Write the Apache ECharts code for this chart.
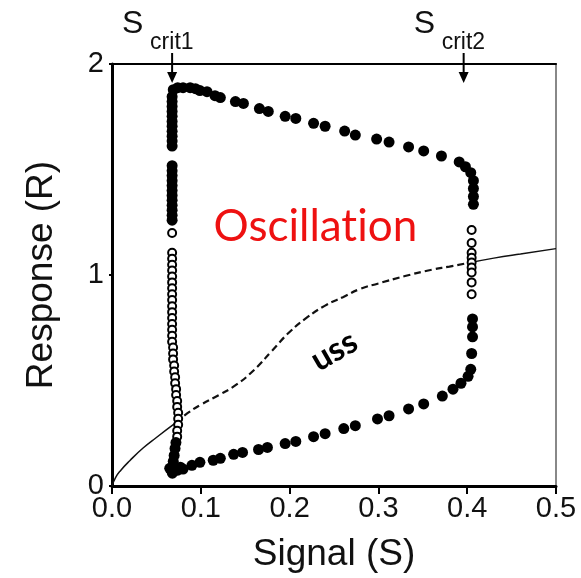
<!DOCTYPE html>
<html>
<head>
<meta charset="utf-8">
<script src="https://cdn.jsdelivr.net/npm/echarts@6/dist/echarts.min.js"></script>
<style>
  html, body { margin: 0; padding: 0; background: #fff; }
  #chart { width: 581px; height: 578px; }
</style>
</head>
<body>
<div id="chart"></div>
<script>
// tick labels
const xTicks = ['0.0', '0.1', '0.2', '0.3', '0.4', '0.5']
const yTicks = ['0', '1', '2']

// steady state curve (solid = stable, dashed = unstable)
const ussLow = [[0, 0], [0.004, 0.04], [0.01, 0.075], [0.02, 0.12], [0.035, 0.18], [0.05, 0.23], [0.072, 0.30]]
const ussMid = [[0.072, 0.30], [0.085, 0.345], [0.1, 0.385], [0.12, 0.43], [0.14, 0.48], [0.16, 0.55],
  [0.18, 0.64], [0.2, 0.73], [0.22, 0.80], [0.24, 0.855], [0.26, 0.895], [0.28, 0.935], [0.30, 0.96],
  [0.33, 0.995], [0.36, 1.025], [0.38, 1.04], [0.405, 1.06]]
const ussHigh = [[0.405, 1.06], [0.43, 1.08], [0.46, 1.10], [0.5, 1.125]]

// filled circles: oscillation trajectory
const filledLeft = [[0.0677, 1.845], [0.0677, 1.822], [0.0677, 1.799], [0.0677, 1.775], [0.0677, 1.752],
  [0.0677, 1.728], [0.0677, 1.705], [0.0677, 1.681], [0.0677, 1.658], [0.0677, 1.635], [0.0677, 1.611],
  [0.0677, 1.518], [0.0677, 1.494], [0.0677, 1.471], [0.0677, 1.447], [0.0677, 1.424], [0.0677, 1.400],
  [0.0677, 1.377], [0.0677, 1.354], [0.0677, 1.330], [0.0677, 1.307], [0.0677, 1.283], [0.0677, 1.260]]
const filledTop = [[0.069, 1.878], [0.074, 1.888], [0.080, 1.888], [0.088, 1.888], [0.094, 1.883],
  [0.099, 1.874], [0.107, 1.869], [0.116, 1.850], [0.122, 1.841], [0.139, 1.822], [0.148, 1.813],
  [0.166, 1.789], [0.176, 1.775], [0.195, 1.752], [0.207, 1.742], [0.227, 1.719], [0.240, 1.705],
  [0.262, 1.682], [0.274, 1.663], [0.298, 1.644], [0.312, 1.630], [0.334, 1.607], [0.351, 1.588],
  [0.371, 1.564], [0.391, 1.536], [0.398, 1.513], [0.404, 1.485], [0.407, 1.447], [0.407, 1.410],
  [0.407, 1.372], [0.407, 1.335]]
const filledRight = [[0.406, 0.792], [0.406, 0.754], [0.406, 0.707], [0.405, 0.628], [0.404, 0.553],
  [0.401, 0.520], [0.393, 0.487], [0.384, 0.459], [0.372, 0.426]]
const filledBottom = [[0.351, 0.389], [0.334, 0.365], [0.312, 0.333], [0.299, 0.318], [0.274, 0.286],
  [0.261, 0.272], [0.240, 0.248], [0.227, 0.234], [0.207, 0.211], [0.195, 0.201], [0.175, 0.183],
  [0.165, 0.173], [0.147, 0.159], [0.137, 0.150], [0.122, 0.131], [0.114, 0.122], [0.099, 0.112],
  [0.090, 0.098], [0.077, 0.089], [0.065, 0.084], [0.068, 0.061], [0.068, 0.089], [0.069, 0.117],
  [0.070, 0.145], [0.071, 0.178], [0.072, 0.206], [0.074, 0.075], [0.080, 0.080]]

// open circles
const openLeft = [[0.0677, 1.199], [0.0677, 1.105], [0.0677, 1.077], [0.0677, 1.049], [0.0677, 1.021],
  [0.0677, 0.993], [0.0677, 0.965], [0.0677, 0.937], [0.0677, 0.909], [0.0677, 0.881], [0.0677, 0.852],
  [0.0677, 0.824], [0.0677, 0.796], [0.0677, 0.768], [0.0677, 0.740], [0.0677, 0.712], [0.0677, 0.684],
  [0.0688, 0.656], [0.0688, 0.628], [0.0688, 0.600], [0.0700, 0.571], [0.0700, 0.543], [0.0711, 0.515],
  [0.0711, 0.487], [0.0722, 0.459], [0.0722, 0.431], [0.0734, 0.403], [0.0734, 0.375], [0.0745, 0.347],
  [0.0745, 0.319], [0.0745, 0.290], [0.0734, 0.262], [0.0734, 0.234]]
const openRight = [[0.405, 1.213], [0.405, 1.152], [0.405, 1.105], [0.405, 1.082], [0.405, 1.059],
  [0.405, 1.035], [0.405, 1.012], [0.405, 0.965], [0.405, 0.909]]

// critical signal values marked on top
const sCrit = [0.0677, 0.396]
const sCritNames = ['crit1', 'crit2']

const font = 'Liberation Sans, Arial, sans-serif'

let chart = echarts.init(document.getElementById('chart'))

const option = {
  animation: false,
  backgroundColor: '#fff',
  grid: { left: 112, right: 25, top: 64, bottom: 87 },
  xAxis: [
    {
      type: 'value', min: 0, max: 0.5, interval: 0.1,
      name: 'Signal (S)', nameLocation: 'middle', nameGap: 50,
      nameTextStyle: { fontFamily: font, fontSize: 37, color: '#111' },
      axisLine: { lineStyle: { color: '#000', width: 3 } },
      axisTick: { show: true, inside: false, length: 8, lineStyle: { color: '#000', width: 2 } },
      axisLabel: { fontFamily: font, fontSize: 29, color: '#111', margin: 8,
        formatter: (v) => xTicks[Math.round(v * 10)] },
      splitLine: { show: false }
    },
    {
      type: 'value', min: 0, max: 0.5, position: 'top',
      axisLine: { onZero: false, lineStyle: { color: '#000', width: 2 } },
      axisTick: { show: false }, axisLabel: { show: false }, splitLine: { show: false }
    }
  ],
  yAxis: [
    {
      type: 'value', min: 0, max: 2, interval: 1,
      name: 'Response (R)', nameLocation: 'middle', nameGap: 52,
      nameTextStyle: { fontFamily: font, fontSize: 37, color: '#111' },
      axisLine: { lineStyle: { color: '#000', width: 3 } },
      axisTick: { show: true, length: 3, lineStyle: { color: '#000', width: 2 } },
      axisLabel: { fontFamily: font, fontSize: 29, color: '#111', margin: 8,
        formatter: (v) => yTicks[Math.round(v)] },
      splitLine: { show: false }
    },
    {
      type: 'value', min: 0, max: 2, position: 'right',
      axisLine: { onZero: false, lineStyle: { color: '#888', width: 2 } },
      axisTick: { show: false }, axisLabel: { show: false }, splitLine: { show: false }
    }
  ],
  series: [
    { type: 'line', data: ussLow, smooth: true, symbol: 'none', lineStyle: { color: '#111', width: 1.5 } },
    { type: 'line', data: ussMid, smooth: true, symbol: 'none', lineStyle: { color: '#111', width: 2.2, type: [7, 4] } },
    { type: 'line', data: ussHigh, smooth: true, symbol: 'none', lineStyle: { color: '#111', width: 1.5 } },
    { type: 'scatter', data: openLeft.concat(openRight), symbol: 'circle', symbolSize: 8,
      itemStyle: { color: '#fff', borderColor: '#000', borderWidth: 2, opacity: 1 }, z: 3 },
    { type: 'scatter', data: filledLeft.concat(filledTop, filledRight, filledBottom), symbol: 'circle', symbolSize: 11,
      itemStyle: { color: '#000', opacity: 1 }, z: 4 }
  ]
}

chart.setOption(option)

// annotations placed from data coordinates
let graphics = []
sCrit.forEach((s, i) => {
  let px = chart.convertToPixel({ xAxisIndex: 0 }, s)
  graphics.push({ type: 'text', left: px - 50, top: 8,
    style: { text: 'S', font: '32px ' + font, fill: '#111' } })
  graphics.push({ type: 'text', left: px - 22, top: 31,
    style: { text: sCritNames[i], font: '23px ' + font, fill: '#111' } })
  graphics.push({ type: 'line', shape: { x1: px, y1: 53, x2: px, y2: 74 }, style: { stroke: '#000', lineWidth: 2 } })
  graphics.push({ type: 'polygon', shape: { points: [[px - 5, 72], [px + 5, 72], [px, 83]] }, style: { fill: '#000' } })
})
let osc = chart.convertToPixel({ xAxisIndex: 0, yAxisIndex: 0 }, [0.229, 1.227])
graphics.push({ type: 'text', x: osc[0], y: osc[1],
  style: { text: 'Oscillat\u200Cion', font: '44px Lato, sans-serif', fill: '#ee1111', align: 'center', verticalAlign: 'middle' } })
let uss = chart.convertToPixel({ xAxisIndex: 0, yAxisIndex: 0 }, [0.250, 0.640])
graphics.push({ type: 'text', x: uss[0], y: uss[1], rotation: Math.PI / 6,
  style: { text: 'uss', font: 'bold 33px Lato, sans-serif', fill: '#000', align: 'center', verticalAlign: 'middle' } })

chart.setOption({ graphic: graphics })
</script>
</body>
</html>
